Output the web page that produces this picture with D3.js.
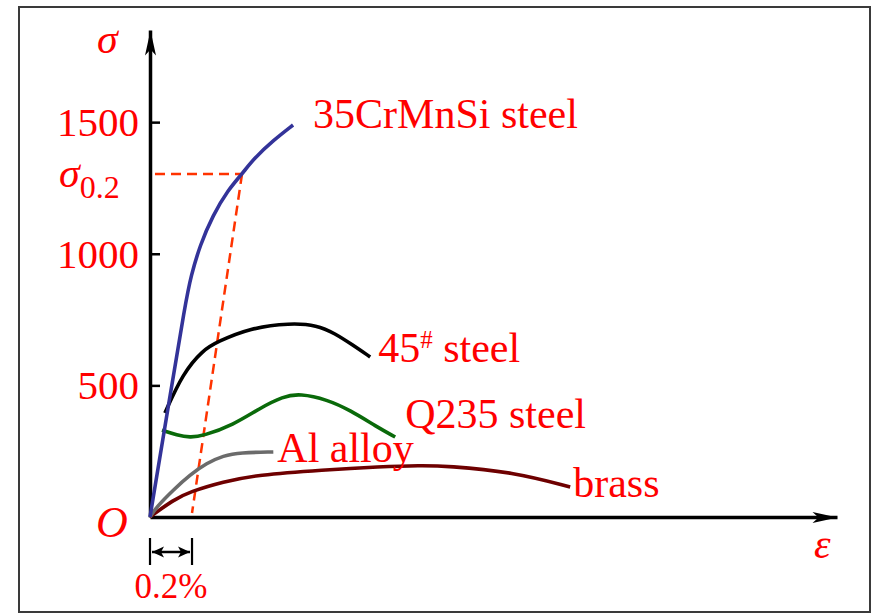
<!DOCTYPE html>
<html>
<head>
<meta charset="utf-8">
<script src="https://cdn.jsdelivr.net/npm/d3@7"></script>
<style>
  html, body { margin: 0; padding: 0; background: #fff; }
  svg { display: block; }
  text { font-family: "Liberation Serif", "Times New Roman", serif; fill: #ff0000; }
</style>
</head>
<body>
<svg id="chart" width="873" height="614"></svg>
<script>
// Stress–strain curves: strain in %, stress in MPa
const steel35CrMnSi = [[0,0],[0.085,410],[0.17,820],[0.195,915],[0.238,1033],[0.300,1147],[0.371,1242],[0.438,1303],[0.495,1362],[0.586,1430],[0.681,1489]];
const steel45 = [[0.071,395],[0.157,547],[0.252,634],[0.319,665],[0.476,718],[0.667,737],[0.795,729],[0.881,697],[0.962,655],[1.048,608]];
const steelQ235 = [[0.057,330],[0.129,311],[0.190,302],[0.252,308],[0.395,349],[0.524,414],[0.633,458],[0.714,469],[0.843,446],[0.952,406],[1.081,342],[1.167,304]];
const alAlloy = [[0,0],[0.032,39],[0.111,103],[0.190,160],[0.270,205],[0.349,233],[0.429,245],[0.587,247]];
const brass = [[0,0],[0.111,65],[0.190,96],[0.349,134],[0.508,160],[0.825,179],[1.095,191],[1.286,196],[1.414,194],[1.729,171],[2.0,114]];

const seriesNames = ["35CrMnSi steel", "45# steel", "Q235 steel", "Al alloy", "brass"];

// Stress axis ticks
const tickValues = [500, 1000, 1500];
const tickLabels = ["500", "1000", "1500"];

// 0.2% offset yield construction
const offsetStrain = 0.2;
const yieldStrain = 0.438;
const yieldStress = 1303;

const svg = d3.select("#chart");

// outer frame
svg.append("rect")
  .attr("x", 19).attr("y", 7).attr("width", 851).attr("height", 605)
  .attr("fill", "none").attr("stroke", "#3a3a3a").attr("stroke-width", 2);

const x = d3.scaleLinear().domain([0, 3.27]).range([150, 837]);
const y = d3.scaleLinear().domain([0, 1850]).range([517, 30]);

// arrowheads
const defs = svg.append("defs");
defs.append("marker")
  .attr("id", "axisArrow")
  .attr("markerUnits", "userSpaceOnUse")
  .attr("viewBox", "-26 -7 28 14")
  .attr("refX", 0).attr("refY", 0)
  .attr("markerWidth", 28).attr("markerHeight", 14)
  .attr("orient", "auto")
  .append("path")
  .attr("d", "M0,0 L-25,-5.5 L-19,0 L-25,5.5 Z")
  .attr("fill", "#000");

defs.append("marker")
  .attr("id", "dimArrow")
  .attr("markerUnits", "userSpaceOnUse")
  .attr("viewBox", "-14 -7 15 14")
  .attr("refX", 0).attr("refY", 0)
  .attr("markerWidth", 15).attr("markerHeight", 14)
  .attr("orient", "auto-start-reverse")
  .append("path")
  .attr("d", "M0,0 L-12,-5.5 L-9,0 L-12,5.5 Z")
  .attr("fill", "#000");

// strain axis
const xAxis = svg.append("g")
  .attr("transform", `translate(0,${y(0)})`)
  .call(d3.axisBottom(x).tickValues([]).tickSizeOuter(0));
xAxis.select(".domain")
  .attr("stroke", "#000").attr("stroke-width", 3.5)
  .attr("marker-end", "url(#axisArrow)");

// stress axis, ticks pointing inward
const yAxis = svg.append("g")
  .attr("transform", `translate(${x(0)},0)`)
  .call(d3.axisLeft(y)
    .tickValues(tickValues)
    .tickFormat((d, i) => tickLabels[i])
    .tickSizeInner(-10)
    .tickSizeOuter(0)
    .tickPadding(11));
yAxis.select(".domain")
  .attr("stroke", "#000").attr("stroke-width", 3.5)
  .attr("marker-end", "url(#axisArrow)");
yAxis.selectAll(".tick line").attr("stroke", "#000").attr("stroke-width", 2.5);
yAxis.selectAll(".tick text")
  .attr("fill", "#ff0000")
  .attr("font-size", 41)
  .attr("dy", "0.33em");

// offset-yield construction lines
const dashColor = "#ff3300";
svg.append("line")
  .attr("x1", x(0) + 5).attr("y1", y(yieldStress))
  .attr("x2", x(yieldStrain)).attr("y2", y(yieldStress))
  .attr("stroke", dashColor).attr("stroke-width", 2.5)
  .attr("stroke-dasharray", "10,6");
svg.append("line")
  .attr("x1", x(yieldStrain)).attr("y1", y(yieldStress))
  .attr("x2", x(offsetStrain)).attr("y2", y(0) - 4)
  .attr("stroke", dashColor).attr("stroke-width", 2.5)
  .attr("stroke-dasharray", "10,6");

// material curves
const line = d3.line()
  .x(d => x(d[0]))
  .y(d => y(d[1]))
  .curve(d3.curveBasis);

const series = [
  { name: seriesNames[0], data: steel35CrMnSi, color: "#333399", dx: 20, dy: 3 },
  { name: seriesNames[1], data: steel45, color: "#000000", dx: 8, dy: 5 },
  { name: seriesNames[2], data: steelQ235, color: "#0a6a0a", dx: 10, dy: -9 },
  { name: seriesNames[3], data: alAlloy, color: "#6b6b6b", dx: 4, dy: 10 },
  { name: seriesNames[4], data: brass, color: "#6e0000", dx: 3, dy: 10 }
];

// draw back-to-front so the steels sit on top
const drawOrder = [4, 3, 2, 1, 0];
svg.append("g")
  .selectAll("path")
  .data(drawOrder.map(i => series[i]))
  .join("path")
  .attr("d", d => line(d.data))
  .attr("fill", "none")
  .attr("stroke", d => d.color)
  .attr("stroke-width", 3.6)
  .attr("stroke-linecap", "butt");

// curve labels next to each curve's end
const labels = svg.append("g");
series.forEach(s => {
  const end = s.data[s.data.length - 1];
  const t = labels.append("text")
    .attr("x", x(end[0]) + s.dx)
    .attr("y", y(end[1]) + s.dy)
    .attr("font-size", 42);
  const m = s.name.match(/^(\w+)#(.*)$/);
  if (m) {
    t.append("tspan").text(m[1]);
    t.append("tspan").attr("font-size", 25).attr("dy", -14).text("#");
    t.append("tspan").attr("dy", 14).text(m[2]);
  } else {
    t.text(s.name);
  }
});

// axis titles
svg.append("text")
  .attr("x", 97).attr("y", 53)
  .attr("font-size", 42).attr("font-style", "italic")
  .text("σ");

svg.append("text")
  .attr("x", 814).attr("y", 558)
  .attr("font-size", 42).attr("font-style", "italic")
  .text("ε");

svg.append("text")
  .attr("x", 96).attr("y", 537)
  .attr("font-size", 44).attr("font-style", "italic")
  .text("O");

// σ0.2 label beside the yield level
const s02 = svg.append("text")
  .attr("x", 59).attr("y", y(yieldStress) + 13)
  .attr("font-size", 42);
s02.append("tspan").attr("font-style", "italic").text("σ");
s02.append("tspan").attr("font-size", 32).attr("dy", 11).text("0.2");

// 0.2% offset dimension below the strain axis
const dimY = 552;
[0, offsetStrain].forEach(v => {
  svg.append("line")
    .attr("x1", x(v)).attr("x2", x(v))
    .attr("y1", 538).attr("y2", 565)
    .attr("stroke", "#000").attr("stroke-width", 2.2);
});
svg.append("line")
  .attr("x1", x(0) + 2).attr("x2", x(offsetStrain) - 2)
  .attr("y1", dimY).attr("y2", dimY)
  .attr("stroke", "#000").attr("stroke-width", 2.6)
  .attr("marker-start", "url(#dimArrow)")
  .attr("marker-end", "url(#dimArrow)");

svg.append("text")
  .attr("x", (x(0) + x(offsetStrain)) / 2)
  .attr("y", 598)
  .attr("text-anchor", "middle")
  .attr("font-size", 35)
  .text("0.2%");
</script>
</body>
</html>
